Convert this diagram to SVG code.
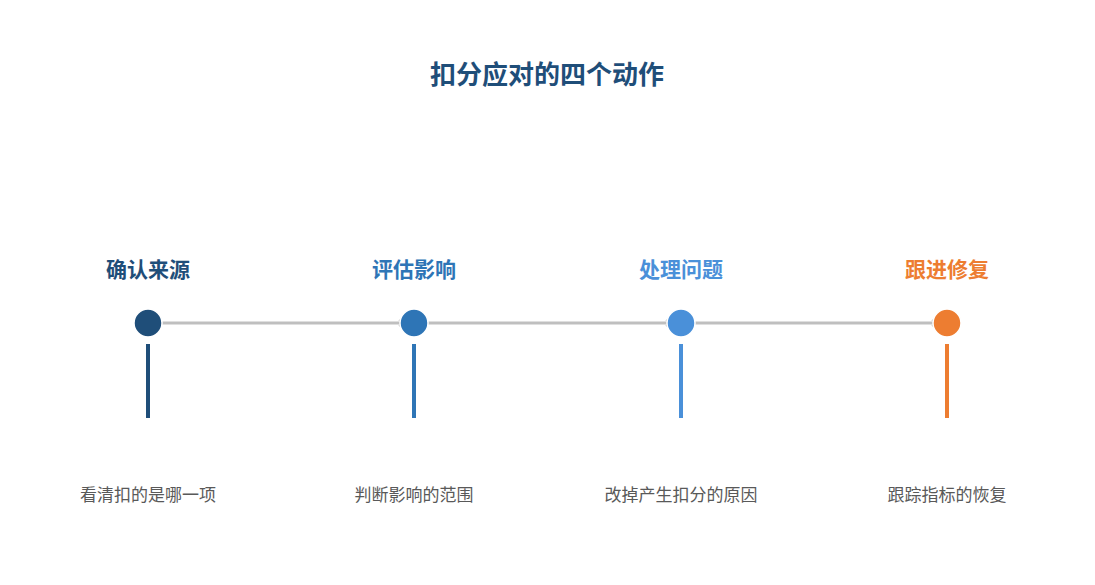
<svg xmlns="http://www.w3.org/2000/svg" width="1095" height="585" viewBox="0 0 1095 585">
<style>
.t{font-family:"Liberation Sans","Noto Sans CJK SC",sans-serif}
.title{font-size:26px;font-weight:bold;fill:#1f4e79}
.h{font-size:21px;font-weight:bold}
.d{font-size:17px;fill:#595959}
.c{stroke:#bfbfbf;stroke-width:3;fill:none;marker-end:url(#a)}
.n{stroke:#fff;stroke-width:1.5}
</style>
<defs><marker id="a" markerWidth="8" markerHeight="8" refX="6" refY="4" orient="auto" markerUnits="userSpaceOnUse"><path d="M1,1 L6,4 L1,7" fill="none" stroke="#bfbfbf" stroke-width="2"/></marker></defs>
<rect width="1095" height="585" fill="#fff"/>
<text class="t title" x="547" y="84" text-anchor="middle">扣分应对的四个动作</text>
<g id="connectors">
<line class="c" x1="162" y1="323" x2="404" y2="323"/>
<line class="c" x1="428" y1="323" x2="671" y2="323"/>
<line class="c" x1="695" y1="323" x2="937" y2="323"/>
</g>
<g id="n1"><text class="t h" x="148" y="277" text-anchor="middle" fill="#1f4e79">确认来源</text><circle class="n" cx="148" cy="323" r="14" fill="#1f4e79"/><rect x="146" y="344" width="4" height="74" fill="#1f4e79"/><text class="t d" x="148" y="501" text-anchor="middle">看清扣的是哪一项</text></g>
<g id="n2"><text class="t h" x="414" y="277" text-anchor="middle" fill="#2e75b6">评估影响</text><circle class="n" cx="414" cy="323" r="14" fill="#2e75b6"/><rect x="412" y="344" width="4" height="74" fill="#2e75b6"/><text class="t d" x="414" y="501" text-anchor="middle">判断影响的范围</text></g>
<g id="n3"><text class="t h" x="681" y="277" text-anchor="middle" fill="#4a90d9">处理问题</text><circle class="n" cx="681" cy="323" r="14" fill="#4a90d9"/><rect x="679" y="344" width="4" height="74" fill="#4a90d9"/><text class="t d" x="681" y="501" text-anchor="middle">改掉产生扣分的原因</text></g>
<g id="n4"><text class="t h" x="947" y="277" text-anchor="middle" fill="#ed7d31">跟进修复</text><circle class="n" cx="947" cy="323" r="14" fill="#ed7d31"/><rect x="945" y="344" width="4" height="74" fill="#ed7d31"/><text class="t d" x="947" y="501" text-anchor="middle">跟踪指标的恢复</text></g>
</svg>
